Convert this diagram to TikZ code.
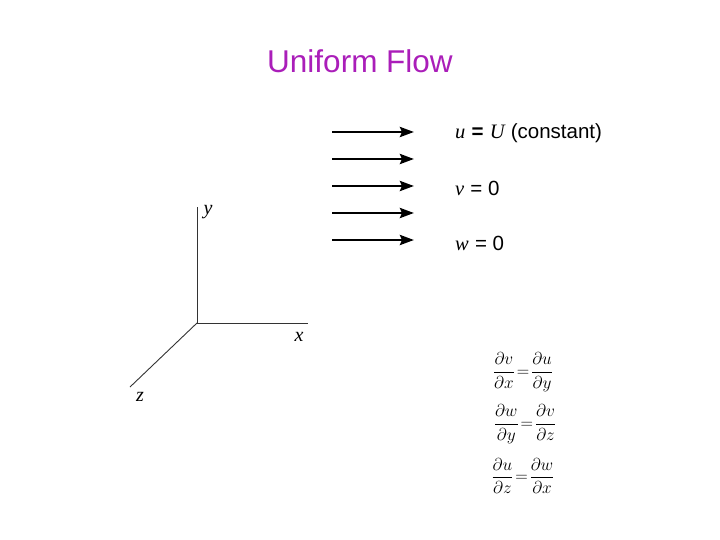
\documentclass[tikz,border=0pt]{standalone}
\usepackage{fontspec}
\usepackage{amsmath}
\setsansfont{Liberation Sans}
\newfontfamily\timesit{Liberation Serif}[ItalicFont={Liberation Serif Italic}]
\usetikzlibrary{arrows.meta}
\definecolor{titlecol}{RGB}{170,30,185}
\begin{document}
\begin{tikzpicture}[x=1pt,y=-1pt,
  flow/.style={line width=2.8pt,-{Stealth[length=14pt,width=10pt,inset=2pt]}},
  axis/.style={line width=0.9pt,black!80},
  eqlabel/.style={anchor=west,inner sep=0pt,font=\fontsize{20.5}{23}\selectfont},
  axlabel/.style={inner sep=0pt,font=\timesit\itshape\fontsize{20}{22}\selectfont},
  eqn/.style={inner sep=0pt,font=\fontsize{18.5}{22}\selectfont}]
\useasboundingbox (0,0) rectangle (720,540);
\node[text=titlecol,font=\sffamily\fontsize{31.5}{36}\selectfont] (title) at (360,61) {Uniform Flow};
% flow arrows
\foreach \i/\yy in {1/132,2/159,3/186,4/213,5/240}{
  \coordinate (s\i) at (332,\yy);
  \coordinate (e\i) at (414,\yy);
  \draw[flow] (s\i) -- (e\i);
}
\node[eqlabel] (ueq) at (455,133) {{\timesit\itshape u} \textbf{\sffamily =} {\timesit\itshape U} \sffamily(constant)};
\node[eqlabel] (veq) at (455,188) {{\timesit\itshape v} {\sffamily = 0}};
\node[eqlabel] (weq) at (455,243) {{\timesit\itshape w} {\sffamily = 0}};
% axes
\coordinate (o) at (197,323);
\coordinate (ya) at (197,207);
\coordinate (xa) at (308,323);
\coordinate (za) at (130,387);
\draw[axis] (o) -- (ya);
\draw[axis] (o) -- (xa);
\draw[axis] (o) -- (za);
\node[axlabel] (ylab) at (208,212) {y};
\node[axlabel] (xlab) at (299,337) {x};
\node[axlabel] (zlab) at (140,397) {z};
% equations
\node[eqn] (eq1) at (523,372) {$\dfrac{\partial v}{\partial x}\!=\!\dfrac{\partial u}{\partial y}$};
\node[eqn] (eq2) at (525,424) {$\dfrac{\partial w}{\partial y}\!=\!\dfrac{\partial v}{\partial z}$};
\node[eqn] (eq3) at (523,476) {$\dfrac{\partial u}{\partial z}\!=\!\dfrac{\partial w}{\partial x}$};
\end{tikzpicture}
\end{document}
